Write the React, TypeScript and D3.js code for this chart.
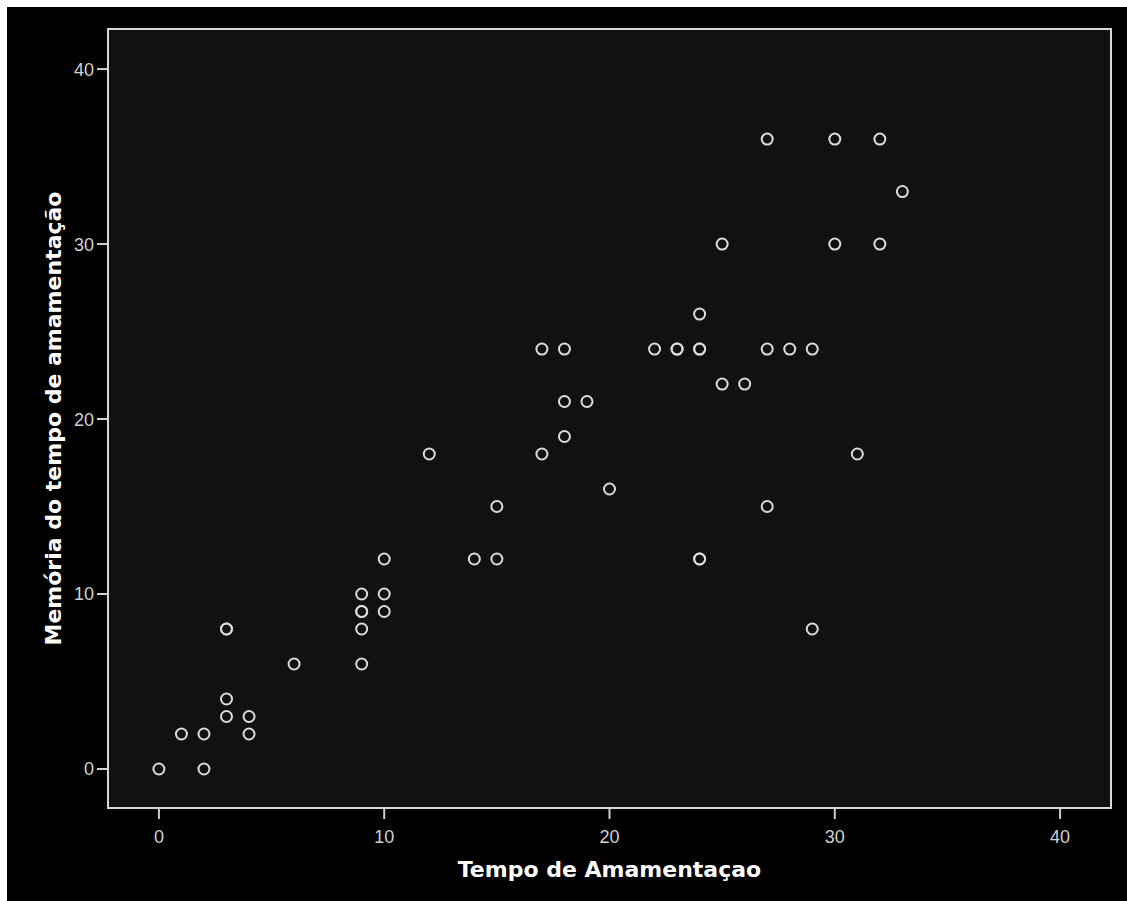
import * as d3 from "d3";
import { useEffect } from "react";

// tempo de amamentação (x) vs memória (y); repeated pairs are overlapping points
const tempo = [
  0, 1, 2, 2, 3, 3, 3, 3, 4, 4, 6, 9, 9, 9, 9, 9, 10, 10, 10, 12, 14, 15, 15,
  17, 17, 18, 18, 18, 19, 20, 22, 23, 23, 24, 24, 24, 24, 24, 25, 25, 26, 27,
  27, 27, 28, 29, 29, 30, 30, 31, 32, 32, 33,
];
const memoria = [
  0, 2, 2, 0, 8, 8, 4, 3, 3, 2, 6, 10, 9, 9, 8, 6, 12, 10, 9, 18, 12, 15, 12,
  24, 18, 24, 21, 19, 21, 16, 24, 24, 24, 26, 24, 24, 12, 12, 30, 22, 22, 36,
  24, 15, 24, 24, 8, 36, 30, 18, 36, 30, 33,
];
const xTicks = [0, 10, 20, 30, 40];
const yTicks = [0, 10, 20, 30, 40];

const W = 1127;
const H = 901;
const plot = { left: 108, top: 29, right: 1111, bottom: 808 };

export default function App() {
  useEffect(() => {
    document.body.style.margin = "0";
    document.body.style.background = "#000";
  }, []);

  const x = d3.scaleLinear().domain([-2.26, 42.26]).range([plot.left, plot.right]);
  const y = d3.scaleLinear().domain([-2.23, 42.29]).range([plot.bottom, plot.top]);
  const points = d3.zip(tempo, memoria);
  const tickColor = "#d0d0d0";
  const tickFont = "'Liberation Sans', Arial, sans-serif";
  const titleFont = "'DejaVu Sans', sans-serif";

  return (
    <svg
      width={W}
      height={H}
      style={{ position: "absolute", left: 0, top: 0, display: "block" }}
    >
      <rect width={W} height={H} fill="#fff" />
      <rect x={7} y={7} width={W} height={H} fill="#000" />
      <rect
        x={plot.left}
        y={plot.top}
        width={plot.right - plot.left}
        height={plot.bottom - plot.top}
        fill="#111111"
        stroke="#d8d8d8"
        strokeWidth={2}
      />
      {/* x axis ticks */}
      {xTicks.map((t) => (
        <g key={"x" + t} transform={`translate(${x(t)},${plot.bottom})`}>
          <line y1={1} y2={11} stroke={tickColor} strokeWidth={2} />
          <text
            y={35}
            textAnchor="middle"
            fill={tickColor}
            fontSize={18}
            fontFamily={tickFont}
          >
            {t}
          </text>
        </g>
      ))}
      {/* y axis ticks */}
      {yTicks.map((t) => (
        <g key={"y" + t} transform={`translate(${plot.left},${y(t)})`}>
          <line x1={-1} x2={-11} stroke={tickColor} strokeWidth={2} />
          <text
            x={-14}
            dy="0.36em"
            textAnchor="end"
            fill={tickColor}
            fontSize={18}
            fontFamily={tickFont}
          >
            {t}
          </text>
        </g>
      ))}
      <text
        x={(plot.left + plot.right) / 2}
        y={877}
        textAnchor="middle"
        fill="#fff"
        fontSize={22}
        fontWeight="bold"
        fontFamily={titleFont}
      >
        Tempo de Amamentaçao
      </text>
      <text
        transform={`translate(61,${(plot.top + plot.bottom) / 2}) rotate(-90)`}
        textAnchor="middle"
        fill="#fff"
        fontSize={22}
        fontWeight="bold"
        fontFamily={titleFont}
      >
        Memória do tempo de amamentação
      </text>
      <g fill="none" stroke="#dcdcdc" strokeWidth={2}>
        {points.map(([a, b], i) => (
          <circle key={i} cx={x(a)} cy={y(b)} r={5.5} />
        ))}
      </g>
    </svg>
  );
}
